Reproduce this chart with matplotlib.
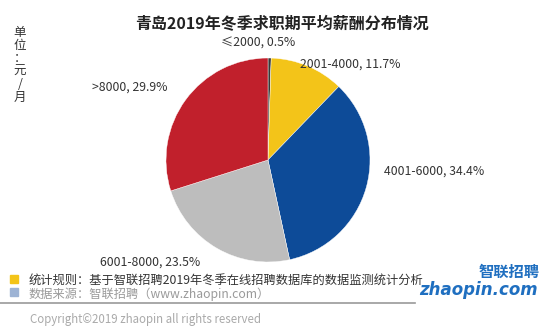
import matplotlib.pyplot as plt
from matplotlib.patches import Rectangle

plt.rcParams['font.family'] = ['Noto Sans CJK SC', 'DejaVu Sans']

W, H = 554, 329

categories = ['≤2000', '2001-4000', '4001-6000', '6001-8000', '>8000']
shares = [0.5, 11.7, 34.4, 23.5, 29.9]
colors = ['#3a3a3a', '#f3c419', '#0d4b98', '#bdbdbd', '#c1202c']
# label anchor (pixels from top-left) and alignment for each slice
label_pos = [(258, 43, 'center'), (300, 64, 'left'), (384, 171, 'left'),
             (100, 262, 'left'), (92, 87, 'left')]

fig = plt.figure(figsize=(W / 100, H / 100), dpi=100)
fig.patch.set_facecolor('white')


def px(x, y):
    return x / W, 1 - y / H


# pie centred at (268, 160) with radius 102 px
cx, cy, r = 268, 160, 102
ax = fig.add_axes([(cx - r) / W, 1 - (cy + r) / H, 2 * r / W, 2 * r / H])
ax.pie(shares, colors=colors, startangle=90, counterclock=False,
       wedgeprops=dict(linewidth=0.3, edgecolor='white'))
ax.set_xlim(-1, 1)
ax.set_ylim(-1, 1)
ax.set_aspect('equal')
ax.axis('off')

for cat, v, (x, y, ha) in zip(categories, shares, label_pos):
    fig.text(*px(x, y), f'{cat}, {v}%', ha=ha, va='center',
             fontsize=8.8, color='#333333')

fig.text(*px(282, 24), '青岛2019年冬季求职期平均薪酬分布情况', ha='center',
         va='center', fontsize=11.5, fontweight='bold', color='#222222')

fig.text(*px(20, 65), '单\n位\n：\n元\n/\n月', ha='center', va='center',
         fontsize=9, color='#333333', linespacing=1.0)

# footer notes with small colour keys
fig.patches.append(Rectangle(px(10, 283), 8 / W, 8 / H, transform=fig.transFigure,
                             color='#f3c419'))
fig.patches.append(Rectangle(px(10, 296), 8 / W, 8 / H, transform=fig.transFigure,
                             color='#9db3d4'))
fig.text(*px(29, 280), '统计规则：基于智联招聘2019年冬季在线招聘数据库的数据监测统计分析',
         ha='left', va='center', fontsize=8.8, color='#333333')
fig.text(*px(29, 294), '数据来源：智联招聘（www.zhaopin.com）',
         ha='left', va='center', fontsize=8.8, color='#9a9a9a')
fig.add_artist(plt.Line2D([0, 415 / W], [1 - 303 / H] * 2, color='#999999',
                          linewidth=1.2, transform=fig.transFigure))
fig.text(*px(30, 319), 'Copyright©2019 zhaopin all rights reserved',
         ha='left', va='center', fontsize=8.3, color='#aaaaaa')

# company mark
fig.text(*px(540, 272), '智联招聘', ha='right', va='center', fontsize=11,
         fontweight='bold', style='italic', color='#1f6fc0')
fig.text(*px(538, 290), 'zhaopin.com', ha='right', va='center', fontsize=12,
         fontweight='bold', style='italic', color='#1f6fc0',
         family=['DejaVu Sans'])

fig.savefig('out.png', dpi=100, facecolor='white')
